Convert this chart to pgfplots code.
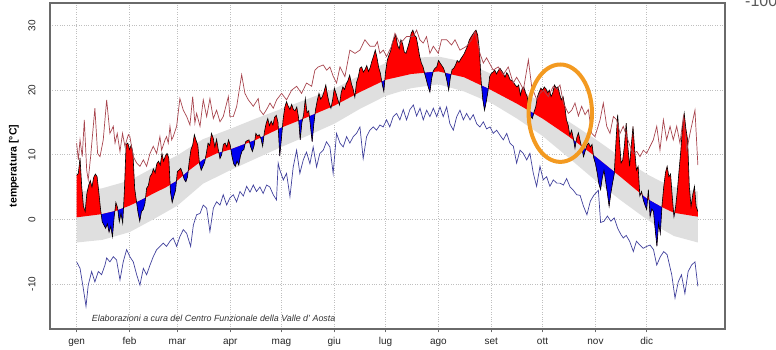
\documentclass[border=0pt]{standalone}
\usepackage{fontspec}
\setmainfont{Liberation Sans}
\usepackage{pgfplots}
\pgfplotsset{compat=1.18}
\usepgfplotslibrary{fillbetween}
\definecolor{bandgray}{HTML}{DFDFDF}
\definecolor{tred}{HTML}{FF0000}
\definecolor{tblue}{HTML}{0000F0}
\definecolor{maxline}{HTML}{A8454E}
\definecolor{minline}{HTML}{40409C}
\definecolor{circ}{HTML}{F39A21}
\definecolor{frame}{HTML}{6A6A6A}
\begin{document}
\begin{tikzpicture}
\begin{axis}[
  at={(0pt,0pt)}, anchor=south west,
  scale only axis, width=675pt, height=326pt,
  xmin=-14.6, xmax=380.9, ymin=-17, ymax=33.5,
  xtick={1,32,60,91,121,152,182,213,244,274,305,335},
  xticklabels={gen,feb,mar,apr,mag,giu,lug,ago,set,ott,nov,dic},
  ytick={-10,0,10,20,30},
  grid=major,
  major grid style={dotted, draw=black!25, line width=0.6pt},
  axis line style={draw=frame, line width=1.1pt},
  xtick pos=bottom, ytick pos=left,
  tick align=outside, major tick length=3.5pt,
  xtick style={draw=frame, line width=0.8pt},
  ytick style={draw=none},
  tick label style={font=\fontsize{10}{12}\selectfont, text=black!85},
  xticklabel style={anchor=base, yshift=-12pt},
  yticklabel style={xshift=-11pt, rotate=90, anchor=base},
  /pgf/number format/assume math mode=true,
  ylabel={temperatura [°C]},
  every axis y label/.style={at={(axis description cs:-0.0533,0.5)}, rotate=90, anchor=center, font=\fontsize{10.5}{12}\selectfont\bfseries},
  no markers,
]
% climatological band
\addplot[draw=none, name path=lo] coordinates {(1,-3.6)(16,-3.2)(32,-2.0)(46,0.0)(60,2.1)(75,5.5)(91,7.6)(106,9.4)(121,11.2)(136,12.9)(152,14.8)(167,17.1)(182,19.1)(197,20.3)(213,20.9)(228,19.8)(244,18.0)(259,15.6)(274,12.9)(289,9.6)(305,6.0)(320,2.9)(335,0.0)(343,-1.4)(351,-2.6)(365,-3.6)};
\addplot[draw=none, name path=hi] coordinates {(1,4.2)(16,4.8)(32,6.0)(46,8.0)(60,9.9)(75,12.4)(91,14.0)(106,15.6)(121,17.1)(136,18.6)(152,20.2)(167,22.3)(182,24.2)(197,25.0)(213,25.2)(228,24.4)(244,22.5)(259,20.3)(274,18.0)(289,15.2)(305,12.4)(320,9.6)(335,7.0)(343,5.9)(351,5.0)(365,4.3)};
\addplot[fill=bandgray, draw=none] fill between[of=hi and lo];
% climatological mean
\addplot[draw=none, name path=N] coordinates {(1,0.3)(16,0.8)(24,1.3)(32,2.1)(39,3.0)(46,4.0)(53,4.9)(60,6.0)(67,7.6)(75,9.2)(83,10.2)(91,10.8)(106,12.3)(121,14.2)(136,15.8)(152,17.6)(167,19.7)(182,21.6)(197,22.5)(213,22.9)(228,22.0)(244,20.0)(259,17.9)(274,15.6)(289,12.9)(305,9.7)(320,6.5)(335,3.2)(343,2.0)(351,1.0)(365,0.4)};
% daily mean temperature
\addplot[draw=none, name path=T] coordinates {
(1,6.8)(2,7.1)(3,9.5)(4,5.0)(5,2.0)(6,1.2)(7,4.0)(8,5.2)(9,6.0)(10,5.0)
(11,6.5)(12,7.0)(13,6.6)(14,4.2)(15,1.6)(16,-0.4)(17,-0.9)(18,-1.4)(19,-0.7)(20,-2.0)
(21,-1.1)(22,-2.7)(23,0.4)(24,2.6)(25,1.8)(26,-0.4)(27,0.9)(28,-0.6)(29,4.5)(30,11.6)
(31,11.8)(32,10.8)(33,11.5)(34,10.2)(35,4.8)(36,2.9)(37,1.0)(38,-0.3)(39,1.2)(40,1.5)
(41,2.4)(42,4.8)(43,5.2)(44,6.6)(45,7.0)(46,7.8)(47,7.2)(48,8.6)(49,9.0)(50,8.4)
(51,10.2)(52,9.0)(53,9.8)(54,10.2)(55,9.5)(56,4.2)(57,2.6)(58,3.6)(59,4.5)(60,7.4)
(61,7.6)(62,7.9)(63,7.2)(64,6.2)(65,5.8)(66,6.6)(67,9.0)(68,10.8)(69,11.5)(70,13.1)
(71,12.2)(72,11.5)(73,8.6)(74,7.6)(75,8.2)(76,8.8)(77,10.2)(78,11.8)(79,11.4)(80,13.3)
(81,12.6)(82,11.2)(83,12.4)(84,10.8)(85,9.4)(86,10.0)(87,11.6)(88,11.8)(89,11.2)(90,12.3)
(91,11.5)(92,9.8)(93,8.6)(94,8.2)(95,9.0)(96,8.4)(97,9.8)(98,10.6)(99,10.8)(100,12.0)
(101,12.2)(102,12.3)(103,11.2)(104,10.5)(105,11.4)(106,13.3)(107,12.9)(108,13.1)(109,12.5)(110,11.3)
(111,13.5)(112,14.8)(113,15.6)(114,14.5)(115,15.2)(116,14.6)(117,15.8)(118,16.1)(119,15.0)(120,9.8)
(121,12.5)(122,15.5)(123,17.4)(124,18.2)(125,17.5)(126,17.0)(127,17.8)(128,17.0)(129,16.8)(130,17.4)
(131,15.8)(132,12.3)(133,15.0)(134,16.2)(135,18.7)(136,16.5)(137,16.8)(138,14.5)(139,12.0)(140,14.8)
(141,17.0)(142,18.4)(143,19.5)(144,18.6)(145,19.0)(146,19.8)(147,20.8)(148,19.2)(149,18.0)(150,17.2)
(151,18.5)(152,20.3)(153,19.5)(154,18.6)(155,17.7)(156,19.6)(157,20.5)(158,20.1)(159,21.0)(160,21.5)
(161,22.3)(162,21.0)(163,20.2)(164,18.9)(165,21.2)(166,22.0)(167,23.4)(168,23.6)(169,22.8)(170,23.2)
(171,23.8)(172,22.9)(173,23.5)(174,24.5)(175,25.3)(176,26.2)(177,25.0)(178,23.5)(179,22.6)(180,21.0)
(181,19.8)(182,22.8)(183,24.6)(184,25.4)(185,26.1)(186,27.3)(187,28.0)(188,28.6)(189,27.0)(190,26.4)
(191,27.8)(192,27.2)(193,25.9)(194,25.7)(195,26.6)(196,27.5)(197,28.8)(198,29.3)(199,28.5)(200,28.2)
(201,26.8)(202,25.2)(203,24.2)(204,23.6)(205,22.5)(206,21.5)(207,20.5)(208,19.7)(209,21.8)(210,23.0)
(211,23.4)(212,23.6)(213,24.6)(214,24.2)(215,23.8)(216,23.4)(217,22.6)(218,21.4)(219,20.0)(220,22.0)
(221,23.2)(222,23.4)(223,23.9)(224,24.6)(225,24.3)(226,24.8)(227,25.2)(228,25.6)(229,26.2)(230,26.8)
(231,27.7)(232,28.2)(233,28.6)(234,29.0)(235,29.3)(236,28.5)(237,26.2)(238,21.5)(239,18.5)(240,16.9)
(241,18.2)(242,19.8)(243,22.1)(244,22.6)(245,22.8)(246,23.1)(247,22.5)(248,23.0)(249,23.4)(250,23.0)
(251,22.6)(252,22.0)(253,22.7)(254,22.3)(255,21.6)(256,21.5)(257,21.2)(258,20.8)(259,20.5)(260,20.8)
(261,19.2)(262,20.2)(263,20.5)(264,19.6)(265,19.0)(266,17.2)(267,16.0)(268,15.6)(269,16.6)(270,17.4)
(271,19.0)(272,19.7)(273,20.3)(274,20.0)(275,20.5)(276,20.2)(277,19.6)(278,20.0)(279,19.0)(280,19.6)
(281,20.8)(282,20.3)(283,20.5)(284,19.4)(285,18.5)(286,19.0)(287,17.6)(288,15.4)(289,14.6)(290,13.0)
(291,13.8)(292,12.6)(293,11.0)(294,12.6)(295,13.4)(296,12.2)(297,11.0)(298,9.7)(299,10.6)(300,11.5)
(301,11.8)(302,11.2)(303,11.6)(304,9.5)(305,8.6)(306,7.2)(307,5.5)(308,4.6)(309,6.4)(310,7.6)
(311,5.8)(312,4.0)(313,2.0)(314,4.0)(315,5.6)(316,7.0)(317,12.0)(318,16.2)(319,12.4)(320,8.7)
(321,9.2)(322,11.5)(323,14.9)(324,11.2)(325,8.2)(326,11.5)(327,14.4)(328,10.6)(329,7.6)(330,8.2)
(331,3.6)(332,4.3)(333,3.0)(334,2.2)(335,1.5)(336,4.6)(337,0.4)(338,1.6)(339,1.2)(340,-1.6)
(341,-4.2)(342,-0.6)(343,-2.2)(344,2.2)(345,5.0)(346,7.2)(347,8.2)(348,6.6)(349,7.0)(350,3.5)
(351,0.4)(352,2.0)(353,4.5)(354,7.6)(355,10.6)(356,14.4)(357,16.4)(358,14.0)(359,12.3)(360,5.0)
(361,2.0)(362,3.8)(363,5.1)(364,2.0)(365,1.2)};
% anomaly above the mean (red), then the spells below the mean (blue)
\addplot[fill=tred, draw=none] fill between[of=T and N];
\addplot[fill=tblue, draw=none] coordinates {(15.4,0.78)(16,-0.4)(17,-0.9)(18,-1.4)(19,-0.7)(20,-2.0)(21,-1.1)(22,-2.7)(23,0.4)(23.4,1.26)(16,0.8)} -- cycle;
\addplot[fill=tblue, draw=none] coordinates {(25.2,1.42)(26,-0.4)(27,0.9)(28,-0.6)(28.5,1.75)} -- cycle;
\addplot[fill=tblue, draw=none] coordinates {(36.1,2.63)(37,1.0)(38,-0.3)(39,1.2)(40,1.5)(41,2.4)(41.4,3.34)(39,3.0)} -- cycle;
\addplot[fill=tblue, draw=none] coordinates {(55.8,5.34)(56,4.2)(57,2.6)(58,3.6)(59,4.5)(59.5,5.92)} -- cycle;
\addplot[fill=tblue, draw=none] coordinates {(63.4,6.78)(64,6.2)(65,5.8)(66,6.6)(66.4,7.46)} -- cycle;
\addplot[fill=tblue, draw=none] coordinates {(72.9,8.78)(73,8.6)(74,7.6)(75,8.2)(76,8.8)(76.4,9.375)(75,9.2)} -- cycle;
\addplot[fill=tblue, draw=none] coordinates {(84.4,10.305)(85,9.4)(86,10.0)(86.3,10.45)} -- cycle;
\addplot[fill=tblue, draw=none] coordinates {(91.4,10.84)(92,9.8)(93,8.6)(94,8.2)(95,9.0)(96,8.4)(97,9.8)(98,10.6)(99,10.8)(99.7,11.67)} -- cycle;
\addplot[fill=tblue, draw=none] coordinates {(102.3,11.93)(103,11.2)(104,10.5)(105,11.4)(105.4,12.24)} -- cycle;
\addplot[fill=tblue, draw=none] coordinates {(108.75,12.65)(109,12.5)(110,11.3)(110.73,12.90)} -- cycle;
\addplot[fill=tblue, draw=none] coordinates {(119.2,13.97)(120,9.8)(121,12.5)(121.6,14.26)(121,14.2)} -- cycle;
\addplot[fill=tblue, draw=none] coordinates {(131.15,15.28)(132,12.3)(133,15.0)(133.44,15.53)} -- cycle;
\addplot[fill=tblue, draw=none] coordinates {(137.37,15.95)(138,14.5)(139,12.0)(140,14.8)(140.69,16.33)} -- cycle;
\addplot[fill=tblue, draw=none] coordinates {(149.81,17.35)(150,17.2)(150.15,17.39)} -- cycle;
\addplot[fill=tblue, draw=none] coordinates {(154.69,17.98)(155,17.7)(155.18,18.05)} -- cycle;
\addplot[fill=tblue, draw=none] coordinates {(163.74,19.24)(164,18.9)(164.18,19.31)} -- cycle;
\addplot[fill=tblue, draw=none] coordinates {(179.8,21.32)(180,21.0)(181,19.8)(181.58,21.55)} -- cycle;
\addplot[fill=tblue, draw=none] coordinates {(204.82,22.70)(205,22.5)(206,21.5)(207,20.5)(208,19.7)(209,21.8)(209.85,22.82)} -- cycle;
\addplot[fill=tblue, draw=none] coordinates {(216.92,22.66)(217,22.6)(218,21.4)(219,20.0)(220,22.0)(220.38,22.46)} -- cycle;
\addplot[fill=tblue, draw=none] coordinates {(238.26,20.72)(239,18.5)(240,16.9)(241,18.2)(242,19.8)(242.19,20.23)} -- cycle;
\addplot[fill=tblue, draw=none] coordinates {(266.36,16.77)(267,16.0)(268,15.6)(268.8,16.40)} -- cycle;
\addplot[fill=tblue, draw=none] coordinates {(292.21,12.26)(293,11.0)(293.61,11.98)} -- cycle;
\addplot[fill=tblue, draw=none] coordinates {(296.7,11.36)(297,11.0)(298,9.7)(299,10.6)(299.27,10.85)} -- cycle;
\addplot[fill=tblue, draw=none] coordinates {(303.79,9.94)(304,9.5)(305,8.6)(306,7.2)(307,5.5)(308,4.6)(309,6.4)(310,7.6)(311,5.8)(312,4.0)(313,2.0)(314,4.0)(315,5.6)(316,7.0)(316.07,7.34)(305,9.7)} -- cycle;
\addplot[fill=tblue, draw=none] coordinates {(330.89,4.10)(331,3.6)(331.52,3.97)} -- cycle;
\addplot[fill=tblue, draw=none] coordinates {(332.41,3.77)(333,3.0)(334,2.2)(335,1.5)(335.52,3.12)(335,3.2)} -- cycle;
\addplot[fill=tblue, draw=none] coordinates {(336.38,2.99)(337,0.4)(338,1.6)(339,1.2)(340,-1.6)(341,-4.2)(342,-0.6)(343,-2.2)(343.93,1.88)(343,2.0)} -- cycle;
\addplot[fill=tblue, draw=none] coordinates {(350.8,1.025)(351,0.4)(351.37,0.98)(351,1.0)} -- cycle;
% outline of the daily mean
\addplot[black, line width=0.6pt] coordinates {
(1,6.8)(2,7.1)(3,9.5)(4,5.0)(5,2.0)(6,1.2)(7,4.0)(8,5.2)(9,6.0)(10,5.0)
(11,6.5)(12,7.0)(13,6.6)(14,4.2)(15,1.6)(16,-0.4)(17,-0.9)(18,-1.4)(19,-0.7)(20,-2.0)
(21,-1.1)(22,-2.7)(23,0.4)(24,2.6)(25,1.8)(26,-0.4)(27,0.9)(28,-0.6)(29,4.5)(30,11.6)
(31,11.8)(32,10.8)(33,11.5)(34,10.2)(35,4.8)(36,2.9)(37,1.0)(38,-0.3)(39,1.2)(40,1.5)
(41,2.4)(42,4.8)(43,5.2)(44,6.6)(45,7.0)(46,7.8)(47,7.2)(48,8.6)(49,9.0)(50,8.4)
(51,10.2)(52,9.0)(53,9.8)(54,10.2)(55,9.5)(56,4.2)(57,2.6)(58,3.6)(59,4.5)(60,7.4)
(61,7.6)(62,7.9)(63,7.2)(64,6.2)(65,5.8)(66,6.6)(67,9.0)(68,10.8)(69,11.5)(70,13.1)
(71,12.2)(72,11.5)(73,8.6)(74,7.6)(75,8.2)(76,8.8)(77,10.2)(78,11.8)(79,11.4)(80,13.3)
(81,12.6)(82,11.2)(83,12.4)(84,10.8)(85,9.4)(86,10.0)(87,11.6)(88,11.8)(89,11.2)(90,12.3)
(91,11.5)(92,9.8)(93,8.6)(94,8.2)(95,9.0)(96,8.4)(97,9.8)(98,10.6)(99,10.8)(100,12.0)
(101,12.2)(102,12.3)(103,11.2)(104,10.5)(105,11.4)(106,13.3)(107,12.9)(108,13.1)(109,12.5)(110,11.3)
(111,13.5)(112,14.8)(113,15.6)(114,14.5)(115,15.2)(116,14.6)(117,15.8)(118,16.1)(119,15.0)(120,9.8)
(121,12.5)(122,15.5)(123,17.4)(124,18.2)(125,17.5)(126,17.0)(127,17.8)(128,17.0)(129,16.8)(130,17.4)
(131,15.8)(132,12.3)(133,15.0)(134,16.2)(135,18.7)(136,16.5)(137,16.8)(138,14.5)(139,12.0)(140,14.8)
(141,17.0)(142,18.4)(143,19.5)(144,18.6)(145,19.0)(146,19.8)(147,20.8)(148,19.2)(149,18.0)(150,17.2)
(151,18.5)(152,20.3)(153,19.5)(154,18.6)(155,17.7)(156,19.6)(157,20.5)(158,20.1)(159,21.0)(160,21.5)
(161,22.3)(162,21.0)(163,20.2)(164,18.9)(165,21.2)(166,22.0)(167,23.4)(168,23.6)(169,22.8)(170,23.2)
(171,23.8)(172,22.9)(173,23.5)(174,24.5)(175,25.3)(176,26.2)(177,25.0)(178,23.5)(179,22.6)(180,21.0)
(181,19.8)(182,22.8)(183,24.6)(184,25.4)(185,26.1)(186,27.3)(187,28.0)(188,28.6)(189,27.0)(190,26.4)
(191,27.8)(192,27.2)(193,25.9)(194,25.7)(195,26.6)(196,27.5)(197,28.8)(198,29.3)(199,28.5)(200,28.2)
(201,26.8)(202,25.2)(203,24.2)(204,23.6)(205,22.5)(206,21.5)(207,20.5)(208,19.7)(209,21.8)(210,23.0)
(211,23.4)(212,23.6)(213,24.6)(214,24.2)(215,23.8)(216,23.4)(217,22.6)(218,21.4)(219,20.0)(220,22.0)
(221,23.2)(222,23.4)(223,23.9)(224,24.6)(225,24.3)(226,24.8)(227,25.2)(228,25.6)(229,26.2)(230,26.8)
(231,27.7)(232,28.2)(233,28.6)(234,29.0)(235,29.3)(236,28.5)(237,26.2)(238,21.5)(239,18.5)(240,16.9)
(241,18.2)(242,19.8)(243,22.1)(244,22.6)(245,22.8)(246,23.1)(247,22.5)(248,23.0)(249,23.4)(250,23.0)
(251,22.6)(252,22.0)(253,22.7)(254,22.3)(255,21.6)(256,21.5)(257,21.2)(258,20.8)(259,20.5)(260,20.8)
(261,19.2)(262,20.2)(263,20.5)(264,19.6)(265,19.0)(266,17.2)(267,16.0)(268,15.6)(269,16.6)(270,17.4)
(271,19.0)(272,19.7)(273,20.3)(274,20.0)(275,20.5)(276,20.2)(277,19.6)(278,20.0)(279,19.0)(280,19.6)
(281,20.8)(282,20.3)(283,20.5)(284,19.4)(285,18.5)(286,19.0)(287,17.6)(288,15.4)(289,14.6)(290,13.0)
(291,13.8)(292,12.6)(293,11.0)(294,12.6)(295,13.4)(296,12.2)(297,11.0)(298,9.7)(299,10.6)(300,11.5)
(301,11.8)(302,11.2)(303,11.6)(304,9.5)(305,8.6)(306,7.2)(307,5.5)(308,4.6)(309,6.4)(310,7.6)
(311,5.8)(312,4.0)(313,2.0)(314,4.0)(315,5.6)(316,7.0)(317,12.0)(318,16.2)(319,12.4)(320,8.7)
(321,9.2)(322,11.5)(323,14.9)(324,11.2)(325,8.2)(326,11.5)(327,14.4)(328,10.6)(329,7.6)(330,8.2)
(331,3.6)(332,4.3)(333,3.0)(334,2.2)(335,1.5)(336,4.6)(337,0.4)(338,1.6)(339,1.2)(340,-1.6)
(341,-4.2)(342,-0.6)(343,-2.2)(344,2.2)(345,5.0)(346,7.2)(347,8.2)(348,6.6)(349,7.0)(350,3.5)
(351,0.4)(352,2.0)(353,4.5)(354,7.6)(355,10.6)(356,14.4)(357,16.4)(358,14.0)(359,12.3)(360,5.0)
(361,2.0)(362,3.8)(363,5.1)(364,2.0)(365,1.2)};
% daily maximum
\addplot[maxline, line width=0.7pt] coordinates {
(1,11.8)(2,9.2)(3,12.3)(4.3,9.7)(5.5,15.4)(6.9,7.6)(7.8,6.1)(9.2,9.7)(11.7,17.2)(13.3,10.2)(14.7,9.7)(16.6,12.3)(18.6,18.5)(20.5,13.3)(22.5,14.4)(23.5,11.8)(24.8,13.3)(26.4,10.5)(27.9,13.3)(29.3,11.3)(31.3,13.1)(32.2,12.8)(34.2,9.7)(36.2,8.7)(38.1,8.2)(40.1,9.2)(42,8.2)(44,10.2)(45.9,11.3)(47.9,10.2)(49.8,12.8)(50.8,10.7)(52.8,12.3)(53.7,12.8)(54.7,11.8)(55.7,14.4)(56.7,12.3)(57.6,12.8)(59.6,14.4)(61.5,18.7)(63.5,16.9)(65.5,15.9)(67.4,14.6)(69,19.0)(70.3,14.9)(71.3,16.4)(73.3,14.4)(75.2,18.5)(77.2,15.9)(79.1,18.7)(81.1,15.6)(83,16.9)(85,15.1)(86.9,15.9)(89.9,19.0)(90.8,15.9)(92.8,15.9)(94.8,17.5)(97.7,22.4)(99.6,19.5)(101.6,18.5)(104.5,17.5)(107.4,18.7)(108.4,16.9)(110.4,16.2)(112.3,17.0)(114.3,18.0)(116.2,17.2)(118.2,18.5)(121.1,19.5)(124,18.5)(127,20.0)(129.9,20.6)(132.8,19.5)(135.7,21.1)(138.7,20.6)(140.6,23.1)(142.6,23.6)(145.5,23.9)(147.5,23.1)(149.4,23.6)(151.4,22.1)(153.3,21.1)(155.3,23.6)(158.2,22.1)(161.1,26.2)(164.1,25.7)(167,26.2)(169.9,27.8)(172.9,26.8)(175.8,26.8)(177.2,27.5)(178.7,25.7)(180.7,26.2)(182.6,25.2)(185.5,26.8)(187.5,28.8)(190.4,27.2)(194.3,28.3)(198.2,28.3)(200.2,29.3)(202.1,27.8)(204.1,27.3)(206,28.3)(208,25.7)(210,26.8)(212.9,25.7)(214.8,27.8)(217.8,27.8)(220.7,27.0)(222.7,27.8)(225.6,26.2)(229.5,26.8)(232.4,27.8)(234.4,29.1)(237.3,25.7)(239.3,24.2)(241.2,25.0)(245.1,23.1)(248,23.6)(251,22.4)(253.9,23.6)(256.8,21.1)(258.8,22.0)(260.8,21.1)(262.8,20.1)(265.7,24.7)(267.6,20.6)(270.6,18.5)(272.5,19.5)(274.5,20.0)(277.4,19.0)(280.3,20.6)(282.3,20.1)(284.2,20.8)(286.2,18.0)(289.1,16.4)(291.1,16.9)(293,18.0)(295,16.0)(296.9,17.5)(298.9,16.2)(300.8,17.0)(302.8,13.3)(304.7,12.8)(307.7,15.4)(309.6,18.0)(311.6,14.4)(313.5,13.3)(315.5,15.9)(317.4,15.4)(319.4,13.3)(321.3,14.4)(323.3,12.8)(325.3,11.3)(327.2,10.2)(329.2,10.5)(331.1,9.7)(333.1,10.7)(335,10.2)(337,11.3)(338.9,12.3)(340.9,14.4)(342.8,10.7)(344.8,15.4)(346.7,12.3)(348.7,14.4)(350.6,12.3)(352.6,14.4)(354.5,11.8)(356.5,15.9)(358.5,10.7)(360.4,13.3)(363.3,16.9)(365,8.4)};
% daily minimum
\addplot[minline, line width=0.7pt] coordinates {
(1,-6.6)(3,-7.6)(4.9,-10.7)(6.5,-13.5)(7.8,-10.2)(9.8,-8.1)(11.7,-9.7)(13.7,-8.1)(15.6,-8.6)(17.6,-7.1)(18.6,-6.0)(20.5,-6.6)(22.5,-5.8)(24.4,-6.3)(26.4,-9.4)(28.3,-6.6)(30.3,-4.7)(32.2,-5.8)(34.2,-6.6)(36.2,-8.6)(38.1,-10.2)(40.1,-7.6)(42,-8.6)(44,-7.1)(45.9,-5.8)(47.9,-4.7)(49.8,-4.2)(51.8,-3.7)(53.7,-4.2)(55.7,-3.4)(57.6,-2.9)(59.6,-4.2)(61.5,-2.7)(63.5,-1.6)(65.5,-2.2)(67.8,-4.2)(69.4,-0.9)(71.3,0.7)(73.3,0.9)(75.2,2.2)(77.2,1.7)(79.1,-1.9)(81.1,1.7)(83,2.7)(85,2.2)(86.9,3.8)(88.9,2.2)(90.8,3.3)(92.8,3.8)(94.7,2.7)(96.7,4.3)(98.7,3.6)(100.6,5.1)(102.6,4.2)(104.5,5.3)(106.4,4.3)(108.4,5.0)(110.3,4.0)(112.3,5.3)(114.2,5.0)(116.2,3.8)(118.1,3.0)(119.1,8.7)(120.1,7.6)(122.1,6.1)(124,7.1)(126,3.5)(127.9,8.1)(129.9,10.7)(131.8,7.1)(133.8,9.2)(135.7,10.4)(137.7,8.6)(139.6,11.2)(141.6,8.1)(143.5,10.2)(145.5,10.7)(147.4,12.0)(149.4,11.2)(151.3,7.1)(153.3,13.3)(155.3,11.8)(157.2,11.2)(159.2,12.8)(161.1,11.8)(163.1,12.8)(165,13.3)(167,14.3)(168.9,9.4)(170.9,12.8)(172.8,13.8)(174.8,14.3)(176.7,13.8)(178.7,14.6)(180.6,14.3)(182.6,15.4)(184.5,14.3)(186.5,15.9)(188.5,16.4)(190.4,15.4)(192.4,17.0)(194.3,15.4)(196.3,17.0)(198.3,17.7)(200.2,16.0)(202.2,17.2)(204.1,15.4)(206.1,16.9)(208,15.9)(210,17.2)(212,15.9)(213.9,17.4)(215.8,15.9)(217.8,17.4)(219.7,14.8)(221.7,13.8)(223.7,15.9)(225.6,16.9)(227.6,15.4)(229.5,16.4)(231.5,15.4)(233.4,16.2)(235.4,14.8)(237.3,14.3)(239.3,15.1)(241.2,14.0)(243.2,14.3)(245.1,13.3)(247.1,13.8)(249.1,13.0)(251,12.3)(253,13.3)(254.9,11.8)(256.9,11.3)(258.8,8.7)(260.8,10.7)(262.7,10.2)(264.7,9.2)(266.6,10.2)(268.6,7.1)(270.5,5.1)(272.5,8.2)(274.4,6.1)(276.4,6.6)(278.3,5.1)(280.3,6.1)(282.3,5.6)(284.2,5.6)(286.2,5.3)(288.1,6.3)(290.1,5.0)(292,4.5)(294,3.8)(296,3.7)(298,2.0)(300,0.7)(302,2.8)(304,3.7)(306.7,4.5)(308,-0.5)(310,-0.3)(312,0.5)(314,-0.3)(316,0.2)(318,-1.4)(320,-2.4)(321.3,-2.9)(323,-2.5)(325,-3.4)(327.2,-5.0)(329,-3.4)(331,-4.0)(333,-4.5)(335,-4.2)(337,-4.0)(339,-4.7)(340.9,-7.1)(343,-5.8)(345,-5.0)(347,-5.5)(349.7,-8.6)(351.6,-12.2)(353.5,-9.7)(355.4,-8.6)(357.4,-11.5)(359.3,-8.1)(361.3,-7.1)(363.3,-6.6)(365,-10.4)};
\node[anchor=base west, inner sep=0pt, font=\fontsize{8.9}{10}\selectfont\itshape, text=black!80] at (axis cs:9.8,-15.9) {Elaborazioni a cura del Centro Funzionale della Valle d' Aosta};
\draw[circ, line width=4pt] (axis cs:284.4,16.43) ellipse [x radius=31.7pt, y radius=48.7pt];
\end{axis}
\path (-50pt,-21pt) rectangle (726pt,329pt);
\node[overlay, anchor=base west, inner sep=0pt, font=\fontsize{16}{16}\selectfont, text=black!65] at (695pt,322.3pt) {-100};
\end{tikzpicture}
\end{document}
